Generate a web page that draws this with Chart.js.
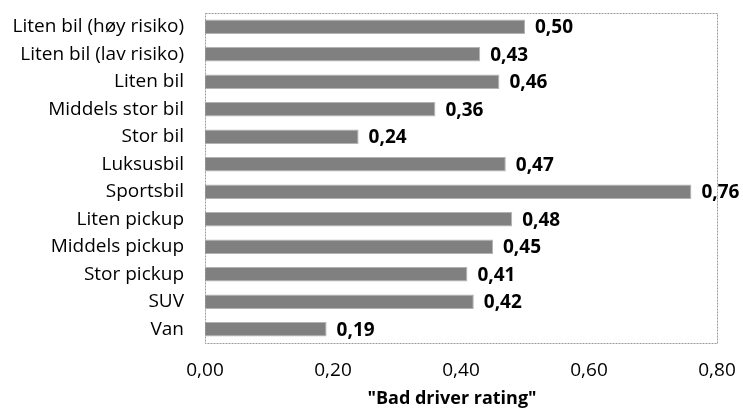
<!DOCTYPE html>
<html>
<head>
<meta charset="utf-8">
<script src="https://cdn.jsdelivr.net/npm/chart.js@4/dist/chart.umd.min.js"></script>
<style>
  html, body { margin: 0; padding: 0; background: #fff; }
  #wrap { width: 743px; height: 410px; position: relative; }
</style>
</head>
<body>
<div id="wrap"><canvas id="c"></canvas></div>
<script>
// Vehicle classes and their "bad driver" rating
const categories = [
  'Liten bil (høy risiko)', 'Liten bil (lav risiko)', 'Liten bil', 'Middels stor bil',
  'Stor bil', 'Luksusbil', 'Sportsbil', 'Liten pickup', 'Middels pickup',
  'Stor pickup', 'SUV', 'Van'
];
const ratings = [0.50, 0.43, 0.46, 0.36, 0.24, 0.47, 0.76, 0.48, 0.45, 0.41, 0.42, 0.19];
const tickValues = [0, 0.2, 0.4, 0.6, 0.8];
const axisTitle = '"Bad driver rating"';

const FONT = '"Open Sans", "Noto Sans", sans-serif';
const fmt = v => v.toFixed(2).replace('.', ',');

// dotted frame around the plot area
const framePlugin = {
  id: 'frame',
  afterDraw(chart) {
    const { ctx, chartArea: a } = chart;
    ctx.save();
    ctx.strokeStyle = '#9a9a9a';
    ctx.lineWidth = 1;
    ctx.setLineDash([2, 1]);
    ctx.strokeRect(Math.round(a.left) + 0.5, Math.round(a.top) + 0.5,
                   Math.round(a.right - a.left), Math.round(a.bottom - a.top));
    ctx.restore();
  }
};

// value labels at the end of each bar
const valueLabels = {
  id: 'valueLabels',
  afterDatasetsDraw(chart) {
    const { ctx } = chart;
    const meta = chart.getDatasetMeta(0);
    ctx.save();
    ctx.font = 'bold 19px ' + FONT;
    ctx.fillStyle = '#000';
    ctx.textAlign = 'left';
    ctx.textBaseline = 'middle';
    meta.data.forEach((bar, i) => {
      ctx.fillText(fmt(ratings[i]), bar.x + 10, bar.y + 1);
    });
    ctx.restore();
  }
};

// axis title under the value axis, a little left of the plot centre
const axisTitlePlugin = {
  id: 'axisTitle',
  afterDraw(chart) {
    const { ctx, chartArea: a } = chart;
    ctx.save();
    ctx.font = 'bold 18px ' + FONT;
    ctx.fillStyle = '#000';
    ctx.textAlign = 'center';
    ctx.textBaseline = 'middle';
    ctx.fillText(axisTitle, (a.left + a.right) / 2 - 9, 399);
    ctx.restore();
  }
};

new Chart(document.getElementById('c'), {
  type: 'bar',
  data: {
    labels: categories,
    datasets: [{
      data: ratings,
      backgroundColor: '#808080',
      borderColor: '#b3b3b3',
      borderWidth: 1,
      categoryPercentage: 1,
      barPercentage: 0.52
    }]
  },
  options: {
    indexAxis: 'y',
    responsive: true,
    maintainAspectRatio: false,
    animation: false,
    layout: { padding: { top: 13, right: 26, left: 0, bottom: 0 } },
    plugins: { legend: { display: false }, tooltip: { enabled: false } },
    scales: {
      x: {
        min: 0, max: 0.8,
        afterBuildTicks(scale) { scale.ticks = tickValues.map(v => ({ value: v })); },
        afterFit(scale) {
          scale.height = 67;
          scale.paddingLeft = 0;
          scale.paddingRight = 0;
        },
        grid: { display: false, drawTicks: false },
        border: { display: false },
        ticks: {
          color: '#000',
          font: { family: FONT, size: 19 },
          padding: 16,
          maxRotation: 0,
          callback: v => fmt(v)
        }
      },
      y: {
        afterFit(scale) {
          scale.width = 205;
          scale.paddingTop = 0;
          scale.paddingBottom = 0;
        },
        grid: { display: false, drawTicks: false },
        border: { display: false },
        ticks: {
          color: '#000',
          font: { family: FONT, size: 19 },
          padding: 21,
          autoSkip: false
        }
      }
    }
  },
  plugins: [framePlugin, valueLabels, axisTitlePlugin]
});
</script>
</body>
</html>
